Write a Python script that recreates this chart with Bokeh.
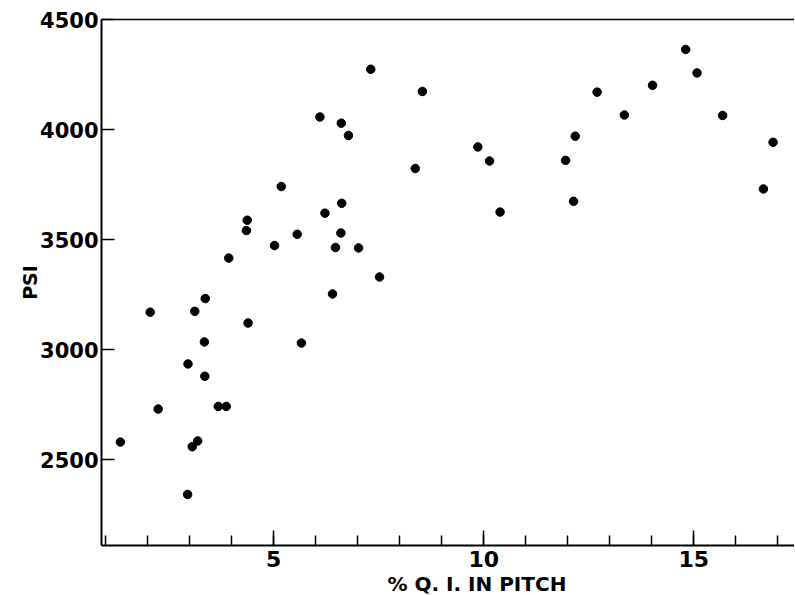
from bokeh.plotting import figure
from bokeh.models import Range1d, SingleIntervalTicker, FixedTicker, LinearAxis, Title, ColumnDataSource
from bokeh.embed import file_html
from bokeh.resources import INLINE

# % Q.I. in pitch
qi_pct = [1.35, 2.25, 2.06, 2.95, 3.06, 3.19, 2.96, 3.36, 3.35, 3.12, 3.37, 3.68,
          3.87, 3.93, 4.39, 4.35, 4.37, 5.02, 5.56, 5.18, 5.66, 6.10, 6.22, 6.61,
          6.78, 6.62, 6.60, 6.47, 6.40, 7.02, 7.52, 7.31, 8.54, 8.37, 9.86, 10.14,
          10.39, 11.95, 12.18, 12.14, 12.70, 13.35, 14.02, 14.81, 15.08, 15.69,
          16.66, 16.89]
# strength, PSI
psi = [2580, 2730, 3170, 2342, 2559, 2585, 2935, 2879, 3035, 3174, 3232, 2742,
       2742, 3416, 3121, 3541, 3588, 3473, 3524, 3741, 3030, 4057, 3620, 4029,
       3973, 3665, 3530, 3464, 3253, 3462, 3330, 4274, 4173, 3823, 3921, 3857,
       3625, 3860, 3970, 3674, 4170, 4066, 4201, 4364, 4257, 4064, 3730, 3942]

x_ticks_interval = 5
y_ticks_interval = 500

FONT = "DejaVu Sans"

src = ColumnDataSource(dict(x=qi_pct, y=psi))

p = figure(frame_width=693, frame_height=526,
           x_range=Range1d(0.9, 17.4), y_range=Range1d(2110, 4500),
           output_backend="svg", toolbar_location=None,
           min_border_left=101, min_border_top=19, min_border_right=0,
           min_border_bottom=0, background_fill_color="white",
           border_fill_color="white")
p.grid.visible = False
p.outline_line_color = None

p.scatter("x", "y", source=src, size=8.5, color="black")

xa = p.xaxis[0]
xa.ticker = SingleIntervalTicker(interval=x_ticks_interval, num_minor_ticks=5)
xa.major_tick_in = 15
xa.major_tick_out = 0
xa.minor_tick_in = 10
xa.minor_tick_out = 0
xa.axis_line_width = 2
xa.major_tick_line_width = 1.5
xa.minor_tick_line_width = 1.5
xa.major_label_text_font = FONT
xa.major_label_text_font_style = "bold"
xa.major_label_text_font_size = "22px"
xa.major_label_text_color = "black"
xa.major_label_standoff = 5

ya = p.yaxis[0]
ya.ticker = SingleIntervalTicker(interval=y_ticks_interval, num_minor_ticks=0)
ya.major_tick_in = 13
ya.major_tick_out = 0
ya.minor_tick_in = 0
ya.minor_tick_out = 0
ya.axis_line_width = 2
ya.major_tick_line_width = 1.5
ya.major_label_text_font = FONT
ya.major_label_text_font_style = "bold"
ya.major_label_text_font_size = "21px"
ya.major_label_text_color = "black"
ya.major_label_standoff = 3
ya.axis_label = "PSI"
ya.axis_label_text_font = FONT
ya.axis_label_text_font_style = "bold"
ya.axis_label_text_font_size = "19px"
ya.axis_label_text_color = "black"
ya.axis_label_standoff = -4

top = LinearAxis(ticker=FixedTicker(ticks=[]), axis_line_width=1.5,
                 major_tick_in=0, major_tick_out=0, minor_tick_in=0,
                 minor_tick_out=0, major_label_standoff=0)
p.add_layout(top, "above")

xlabel = Title(text="% Q. I. IN PITCH", align="left", offset=286,
               text_font=FONT, text_font_style="bold", text_font_size="20px",
               text_color="black", standoff=0)
p.add_layout(xlabel, "below")

open("out.html", "w").write(file_html(p, INLINE))
